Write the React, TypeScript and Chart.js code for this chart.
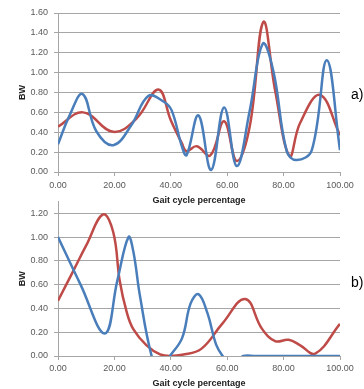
import React, { useEffect, useRef } from "react";
import { Chart, registerables } from "chart.js";

Chart.register(...registerables);

// Panel a)
const aBlueX = [0, 4.2, 8.7, 13.6, 19.6, 26, 32, 37.4, 40.3, 43.9, 45.6, 49.8, 54.3, 58.9, 63.4, 68, 72.6, 76.4, 81.1, 84.6, 90, 95.3, 100];
const aBlueY = [0.28, 0.575, 0.785, 0.41, 0.27, 0.47, 0.765, 0.71, 0.62, 0.26, 0.17, 0.57, 0.02, 0.65, 0.06, 0.62, 1.29, 1.01, 0.21, 0.12, 0.22, 1.125, 0.22];
const aRedX = [0, 8.9, 19.6, 27.9, 35.6, 40, 43.9, 45.6, 49.2, 54, 58.9, 63.4, 68, 72.8, 77, 82.1, 85.8, 92.9, 100];
const aRedY = [0.457, 0.6, 0.404, 0.54, 0.83, 0.52, 0.29, 0.21, 0.26, 0.167, 0.51, 0.11, 0.46, 1.51, 0.82, 0.16, 0.49, 0.775, 0.37];

// Panel b)
const bBlueX = [0, 8, 16.6, 21, 25, 26.7, 29.1, 33.2, 35.5, 37.5, 39.7, 44, 47, 49.8, 53, 56, 58.4, 60.8, 63.2, 65.7, 70, 100];
const bBlueY = [1.0, 0.6, 0.19, 0.63, 1.0, 0.88, 0.5, 0, -0.08, -0.08, 0, 0.15, 0.44, 0.52, 0.36, 0.1, 0, -0.06, -0.06, 0, 0, 0];
const bRedX = [0, 5.3, 10, 16, 19.6, 21.9, 24.3, 26.7, 31.4, 36.2, 40, 44, 50.8, 58.2, 66.4, 72.3, 77, 81.8, 85.9, 91.2, 100];
const bRedY = [0.465, 0.71, 0.93, 1.19, 1.04, 0.63, 0.375, 0.226, 0.09, 0.014, 0, 0.01, 0.06, 0.27, 0.48, 0.23, 0.125, 0.136, 0.09, 0.02, 0.27];

const xTicks = [0, 20, 40, 60, 80, 100];
const xTitle = "Gait cycle percentage";
const yTitle = "BW";

const BLUE = "#4a7ebb";
const RED = "#be4b48";
const GRID = "#a6a6a6";
const TICK = "#595959";
const FONT = "'Liberation Sans', Arial, sans-serif";

function pts(xs: number[], ys: number[]) {
  return xs.map((x, i) => ({ x, y: ys[i] }));
}

type PanelProps = {
  top: number;
  height: number;
  yMax: number;
  plotTop: number;
  plotBottom: number;
  tickPad: number;
  titlePad: number;
  blue: { x: number; y: number }[];
  red: { x: number; y: number }[];
};

function Panel(p: PanelProps) {
  const ref = useRef<HTMLCanvasElement | null>(null);
  useEffect(() => {
    if (!ref.current) return;
    const leftPad = 12;
    const chart = new Chart(ref.current, {
      type: "line",
      data: {
        datasets: [
          {
            data: p.blue,
            borderColor: BLUE,
            borderWidth: 2.5,
            pointRadius: 0,
            tension: 0.4,
            fill: false,
          },
          {
            data: p.red,
            borderColor: RED,
            borderWidth: 2.5,
            pointRadius: 0,
            tension: 0.4,
            fill: false,
          },
        ],
      },
      options: {
        animation: false,
        responsive: false,
        devicePixelRatio: 1,
        layout: { padding: { top: p.plotTop, right: 24, left: leftPad, bottom: 0 } },
        plugins: { legend: { display: false }, tooltip: { enabled: false } },
        scales: {
          x: {
            type: "linear",
            min: 0,
            max: 100,
            afterBuildTicks: (s: any) => {
              s.ticks = xTicks.map((v) => ({ value: v }));
            },
            afterFit: (s: any) => {
              s.height = p.height - p.plotBottom;
            },
            ticks: {
              maxRotation: 0,
              autoSkip: false,
              padding: p.tickPad,
              color: TICK,
              font: { family: FONT, size: 9 },
              callback: (v: any) => Number(v).toFixed(2),
            },
            grid: {
              drawOnChartArea: false,
              drawTicks: true,
              tickLength: 4,
              color: GRID,
            },
            border: { display: true, color: GRID, width: 1 },
            title: {
              display: true,
              text: xTitle,
              color: "#222",
              font: { family: FONT, size: 9, weight: "bold" },
              padding: { top: 0, bottom: p.titlePad },
            },
          },
          y: {
            type: "linear",
            min: 0,
            max: p.yMax,
            afterFit: (s: any) => {
              s.width = 58 - leftPad;
            },
            ticks: {
              stepSize: 0.2,
              includeBounds: false,
              padding: 6,
              color: TICK,
              font: { family: FONT, size: 9 },
              callback: (v: any) => Number(v).toFixed(2),
            },
            grid: { color: GRID, tickLength: 4, lineWidth: 1 },
            border: { display: true, color: GRID, width: 1 },
            title: {
              display: true,
              text: yTitle,
              color: "#222",
              font: { family: FONT, size: 9, weight: "bold" },
              padding: { top: 5, bottom: 0 },
            },
          },
        },
      },
    } as any);
    return () => chart.destroy();
  }, []);
  return (
    <canvas
      ref={ref}
      width={364}
      height={p.height}
      style={{ position: "absolute", left: 0, top: p.top, width: 364, height: p.height }}
    />
  );
}

export default function App() {
  return (
    <div
      style={{
        position: "fixed",
        left: 0,
        top: 0,
        width: 364,
        height: 389,
        background: "#fff",
        overflow: "hidden",
      }}
    >
      <Panel
        top={190}
        height={199}
        yMax={1.3}
        plotTop={7}
        plotBottom={166}
        tickPad={3}
        titlePad={0}
        blue={pts(bBlueX, bBlueY)}
        red={pts(bRedX, bRedY)}
      />
      <Panel
        top={0}
        height={209}
        yMax={1.6}
        plotTop={13}
        plotBottom={172}
        tickPad={4}
        titlePad={3}
        blue={pts(aBlueX, aBlueY)}
        red={pts(aRedX, aRedY)}
      />
      <div
        style={{
          position: "absolute",
          left: 351,
          top: 86,
          fontFamily: FONT,
          fontSize: 14,
          color: "#000",
        }}
      >
        a)
      </div>
      <div
        style={{
          position: "absolute",
          left: 351,
          top: 274,
          fontFamily: FONT,
          fontSize: 14,
          color: "#000",
        }}
      >
        b)
      </div>
    </div>
  );
}
